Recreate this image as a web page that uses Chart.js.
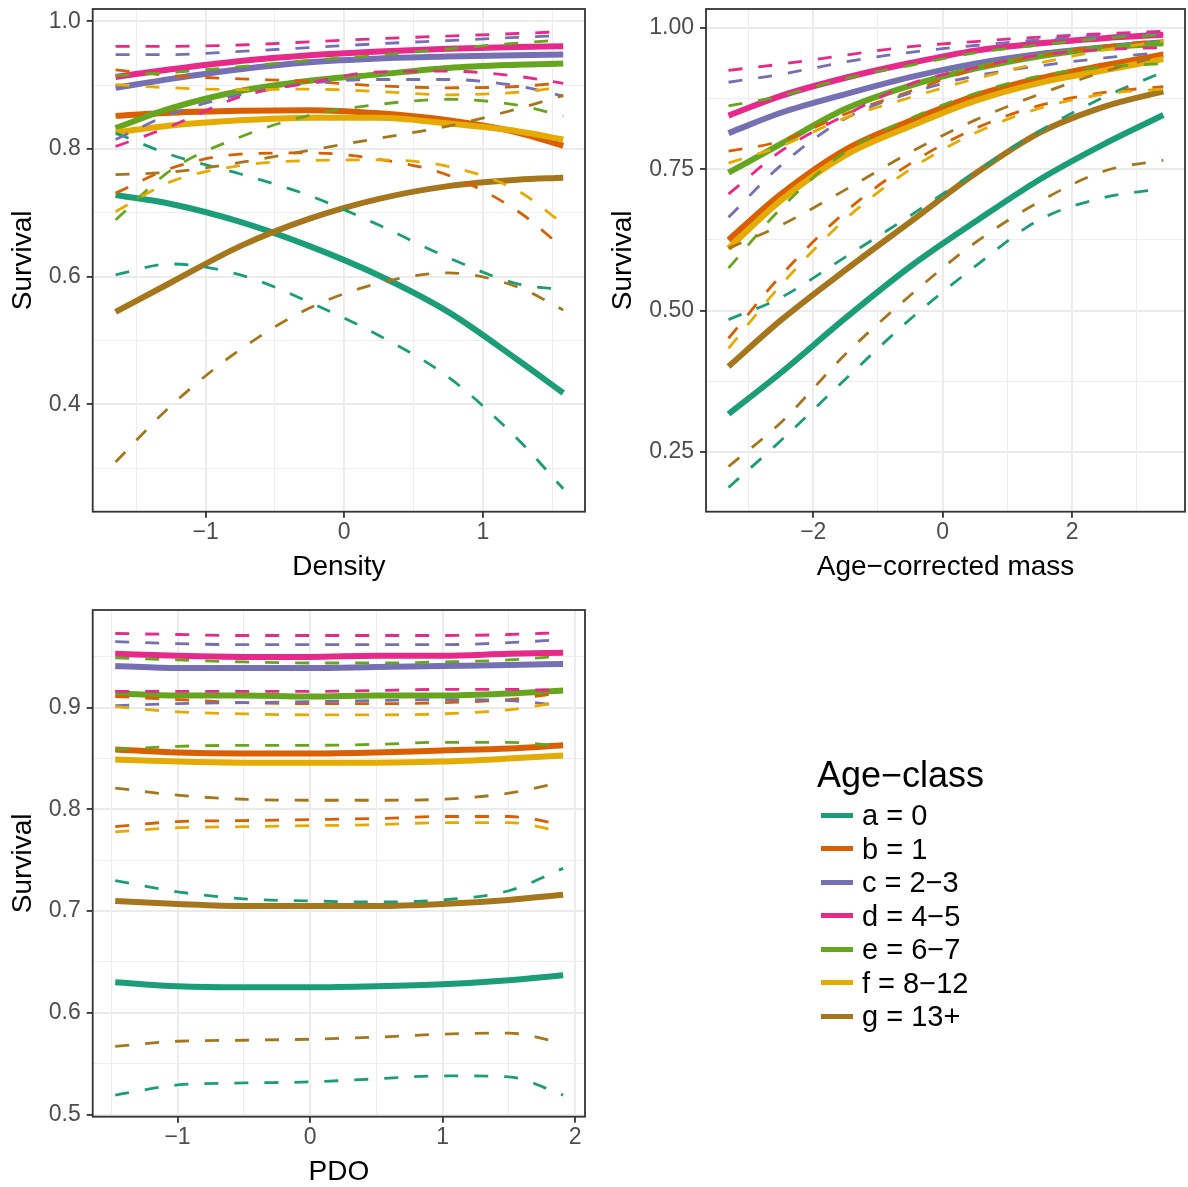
<!DOCTYPE html>
<html>
<head>
<meta charset="utf-8">
<script src="https://cdn.jsdelivr.net/npm/chart.js@4.4.0/dist/chart.umd.min.js"></script>
<style>
  body { margin: 0; background: #ffffff; }
  #page { position: relative; width: 1188px; height: 1187px; overflow: hidden; background: #ffffff;
          font-family: "Liberation Sans", Arial, sans-serif; }
  .panel { position: absolute; }
  .panel canvas { display: block; }
  #legend { position: absolute; left: 0; top: 0; width: 1188px; height: 1187px; pointer-events: none; }
  .ltitle { position: absolute; left: 817px; top: 754px; font-size: 36px; line-height: 42px; color: #000; white-space: nowrap; }
  .lkey { position: absolute; left: 821px; width: 32px; height: 5px; }
  .llabel { position: absolute; left: 862px; font-size: 29px; line-height: 34px; color: #000; white-space: nowrap; }
</style>
</head>
<body>
<div id="page">
  <div class="panel" style="left:0px;top:0px;width:600px;height:590px"><canvas id="cDensity" width="600" height="590"></canvas></div>
  <div class="panel" style="left:600px;top:0px;width:588px;height:590px"><canvas id="cMass" width="588" height="590"></canvas></div>
  <div class="panel" style="left:0px;top:600px;width:600px;height:587px"><canvas id="cPdo" width="600" height="587"></canvas></div>
  <div id="legend"></div>
</div>
<script>
// Age classes and their colours
const classLabels = ['a = 0', 'b = 1', 'c = 2\u22123', 'd = 4\u22125', 'e = 6\u22127', 'f = 8\u221212', 'g = 13+'];
const classColors = ['#1B9E77', '#D95F02', '#7570B3', '#E7298A', '#66A61E', '#E6AB02', '#A6761D'];

// Survival against density (rows follow classLabels)
const densityX = [-1.65, -1.25, -0.75, -0.25, 0.25, 0.75, 1.25, 1.58];
const densityFit = [
  [0.728, 0.714, 0.686, 0.648, 0.602, 0.545, 0.470, 0.418],
  [0.852, 0.857, 0.860, 0.861, 0.856, 0.845, 0.826, 0.805],
  [0.896, 0.910, 0.925, 0.936, 0.942, 0.945, 0.947, 0.948],
  [0.913, 0.925, 0.938, 0.947, 0.953, 0.957, 0.960, 0.961],
  [0.833, 0.864, 0.891, 0.907, 0.917, 0.927, 0.932, 0.934],
  [0.826, 0.837, 0.845, 0.849, 0.849, 0.840, 0.828, 0.815],
  [0.545, 0.591, 0.648, 0.691, 0.722, 0.742, 0.752, 0.755]
];
const densityLower = [
  [0.603, 0.620, 0.603, 0.560, 0.508, 0.443, 0.346, 0.268],
  [0.731, 0.770, 0.792, 0.794, 0.784, 0.759, 0.703, 0.645],
  [0.815, 0.855, 0.885, 0.903, 0.909, 0.909, 0.899, 0.883],
  [0.804, 0.836, 0.882, 0.904, 0.921, 0.922, 0.914, 0.903],
  [0.689, 0.767, 0.819, 0.853, 0.870, 0.878, 0.869, 0.852],
  [0.702, 0.749, 0.774, 0.782, 0.783, 0.773, 0.735, 0.683],
  [0.310, 0.398, 0.486, 0.551, 0.590, 0.606, 0.584, 0.548]
];
const densityUpper = [
  [0.825, 0.791, 0.761, 0.727, 0.681, 0.630, 0.589, 0.580],
  [0.924, 0.915, 0.910, 0.906, 0.899, 0.896, 0.898, 0.904],
  [0.948, 0.948, 0.953, 0.959, 0.965, 0.970, 0.975, 0.978],
  [0.961, 0.961, 0.963, 0.968, 0.973, 0.977, 0.981, 0.984],
  [0.915, 0.920, 0.929, 0.939, 0.947, 0.957, 0.966, 0.971],
  [0.901, 0.896, 0.893, 0.894, 0.890, 0.885, 0.889, 0.897],
  [0.760, 0.764, 0.779, 0.798, 0.817, 0.836, 0.863, 0.884]
];

// Survival against age-corrected mass
const massX = [-3.31, -2.5, -1.5, -0.5, 0.5, 1.5, 2.5, 3.41];
const massFit = [
  [0.317, 0.390, 0.487, 0.578, 0.657, 0.732, 0.795, 0.846],
  [0.625, 0.706, 0.785, 0.836, 0.880, 0.911, 0.934, 0.953],
  [0.814, 0.850, 0.883, 0.913, 0.937, 0.954, 0.966, 0.975],
  [0.845, 0.880, 0.912, 0.938, 0.960, 0.973, 0.982, 0.988],
  [0.744, 0.795, 0.857, 0.898, 0.928, 0.950, 0.965, 0.973],
  [0.610, 0.695, 0.775, 0.826, 0.871, 0.903, 0.925, 0.945],
  [0.401, 0.483, 0.572, 0.657, 0.742, 0.815, 0.861, 0.888]
];
const massLower = [
  [0.187, 0.270, 0.379, 0.485, 0.578, 0.661, 0.700, 0.716],
  [0.451, 0.562, 0.675, 0.760, 0.822, 0.863, 0.886, 0.896],
  [0.665, 0.757, 0.840, 0.885, 0.915, 0.933, 0.947, 0.957],
  [0.706, 0.782, 0.846, 0.901, 0.930, 0.952, 0.962, 0.965],
  [0.575, 0.681, 0.781, 0.840, 0.884, 0.915, 0.931, 0.937],
  [0.433, 0.545, 0.662, 0.750, 0.814, 0.858, 0.883, 0.892],
  [0.224, 0.302, 0.423, 0.527, 0.620, 0.693, 0.747, 0.766]
];
const massUpper = [
  [0.484, 0.523, 0.595, 0.668, 0.745, 0.818, 0.878, 0.922],
  [0.782, 0.800, 0.848, 0.888, 0.927, 0.951, 0.968, 0.978],
  [0.904, 0.918, 0.940, 0.957, 0.969, 0.979, 0.986, 0.991],
  [0.925, 0.936, 0.952, 0.967, 0.976, 0.984, 0.990, 0.994],
  [0.862, 0.880, 0.911, 0.934, 0.956, 0.970, 0.982, 0.988],
  [0.761, 0.791, 0.841, 0.877, 0.910, 0.938, 0.961, 0.977],
  [0.610, 0.651, 0.714, 0.780, 0.837, 0.883, 0.923, 0.952]
];

// Survival against PDO
const pdoX = [-1.47, -1.0, -0.5, 0, 0.5, 1.0, 1.5, 1.91];
const pdoFit = [
  [0.630, 0.626, 0.625, 0.625, 0.626, 0.628, 0.632, 0.637],
  [0.859, 0.856, 0.855, 0.855, 0.856, 0.858, 0.860, 0.863],
  [0.941, 0.939, 0.939, 0.939, 0.940, 0.941, 0.942, 0.943],
  [0.953, 0.951, 0.950, 0.950, 0.951, 0.951, 0.953, 0.954],
  [0.914, 0.912, 0.912, 0.911, 0.912, 0.912, 0.914, 0.917],
  [0.849, 0.847, 0.846, 0.846, 0.846, 0.847, 0.850, 0.853],
  [0.710, 0.707, 0.705, 0.705, 0.705, 0.707, 0.711, 0.716]
];
const pdoLower = [
  [0.519, 0.529, 0.531, 0.532, 0.535, 0.538, 0.537, 0.519],
  [0.783, 0.788, 0.789, 0.790, 0.791, 0.793, 0.793, 0.785],
  [0.902, 0.904, 0.905, 0.906, 0.907, 0.908, 0.907, 0.902],
  [0.916, 0.916, 0.916, 0.916, 0.917, 0.918, 0.918, 0.917],
  [0.859, 0.862, 0.863, 0.863, 0.864, 0.866, 0.866, 0.862],
  [0.778, 0.782, 0.783, 0.784, 0.785, 0.787, 0.787, 0.778],
  [0.567, 0.572, 0.573, 0.574, 0.576, 0.579, 0.580, 0.570]
];
const pdoUpper = [
  [0.730, 0.719, 0.712, 0.710, 0.709, 0.711, 0.720, 0.742],
  [0.911, 0.908, 0.905, 0.904, 0.904, 0.905, 0.908, 0.915],
  [0.965, 0.963, 0.962, 0.962, 0.962, 0.962, 0.964, 0.967],
  [0.973, 0.972, 0.971, 0.971, 0.971, 0.971, 0.972, 0.974],
  [0.949, 0.947, 0.945, 0.944, 0.944, 0.945, 0.947, 0.951],
  [0.901, 0.896, 0.894, 0.893, 0.893, 0.894, 0.898, 0.906],
  [0.821, 0.814, 0.810, 0.809, 0.809, 0.810, 0.816, 0.827]
];

// Grid positions (all) and labelled positions (major) per axis
const densityXTicks = [-1.5, -1, -0.5, 0, 0.5, 1, 1.5];
const densityXMajor = [-1, 0, 1];
const densityYTicks = [0.3, 0.4, 0.5, 0.6, 0.7, 0.8, 0.9, 1.0];
const densityYMajor = [0.4, 0.6, 0.8, 1.0];
const massXTicks = [-3, -2, -1, 0, 1, 2, 3];
const massXMajor = [-2, 0, 2];
const massYTicks = [0.25, 0.375, 0.5, 0.625, 0.75, 0.875, 1.0];
const massYMajor = [0.25, 0.5, 0.75, 1.0];
const pdoXTicks = [-1.5, -1, -0.5, 0, 0.5, 1, 1.5, 2];
const pdoXMajor = [-1, 0, 1, 2];
const pdoYTicks = [0.5, 0.55, 0.6, 0.65, 0.7, 0.75, 0.8, 0.85, 0.9, 0.95];
const pdoYMajor = [0.5, 0.6, 0.7, 0.8, 0.9];

Chart.defaults.font.family = "'Liberation Sans', Arial, Helvetica, sans-serif";

const GRID = '#EBEBEB';
const INK = '#333333';
const MINUS = '\u2212';

function isIn(list, v) { return list.some(m => Math.abs(m - v) < 1e-9); }
function fmt(v, digits) {
  const s = Math.abs(v).toFixed(digits);
  return v < 0 ? MINUS + s : s;
}

// Panel border drawn over the data, as a closed frame
const framePlugin = {
  id: 'frame',
  afterDatasetsDraw(chart) {
    const { ctx, chartArea: a } = chart;
    ctx.save();
    ctx.strokeStyle = INK;
    ctx.lineWidth = 1.8;
    ctx.strokeRect(a.left, a.top, a.right - a.left, a.bottom - a.top);
    ctx.restore();
  }
};

function buildDatasets(xs, fit, lower, upper) {
  const sets = [];
  const pts = arr => arr.map((y, k) => ({ x: xs[k], y }));
  classColors.forEach((col, i) => {
    sets.push({ data: pts(fit[i]), borderColor: col, borderWidth: 6, order: 20 - i });
    sets.push({ data: pts(lower[i]), borderColor: col, borderWidth: 2.8, borderDash: [14, 16], order: 10 - i });
    sets.push({ data: pts(upper[i]), borderColor: col, borderWidth: 2.8, borderDash: [14, 16], order: 10 - i });
  });
  return sets;
}

function axis(o) {
  const horizontal = o.dir === 'x';
  return {
    type: 'linear',
    position: horizontal ? 'bottom' : 'left',
    min: o.min,
    max: o.max,
    afterBuildTicks: ax => { ax.ticks = o.ticks.map(v => ({ value: v })); },
    afterFit: ax => {
      if (horizontal) { ax.height = o.size; ax.paddingLeft = 0; ax.paddingRight = 0; }
      else { ax.width = o.size; ax.paddingTop = 0; ax.paddingBottom = 0; }
    },
    border: { display: false },
    grid: {
      color: GRID,
      lineWidth: c => (c.tick && isIn(o.major, c.tick.value)) ? 1.9 : 0.9,
      drawTicks: true,
      tickLength: 6,
      tickWidth: 1.8,
      tickColor: c => (c.tick && isIn(o.major, c.tick.value)) ? INK : 'rgba(0,0,0,0)'
    },
    ticks: {
      autoSkip: false,
      maxRotation: 0,
      color: '#4D4D4D',
      font: { size: 23 },
      padding: horizontal ? 1.5 : 6,
      callback: v => isIn(o.major, v) ? fmt(v, o.digits) : ''
    },
    title: {
      display: true,
      text: o.title,
      color: '#000000',
      font: { size: 28, lineHeight: 1 },
      padding: horizontal ? { top: 0, bottom: o.titlePad } : { top: o.titlePad, bottom: 0 }
    }
  };
}

function makePanel(id, p) {
  new Chart(document.getElementById(id), {
    type: 'line',
    data: { datasets: buildDatasets(p.xs, p.fit, p.lower, p.upper) },
    options: {
      responsive: false,
      animation: false,
      devicePixelRatio: 1,
      layout: { padding: p.padding },
      elements: {
        point: { radius: 0, hoverRadius: 0 },
        line: { cubicInterpolationMode: 'monotone', fill: false, borderCapStyle: 'butt' }
      },
      plugins: { legend: { display: false }, tooltip: { enabled: false } },
      scales: { x: axis(p.x), y: axis(p.y) }
    },
    plugins: [framePlugin]
  });
}

makePanel('cDensity', {
  xs: densityX, fit: densityFit, lower: densityLower, upper: densityUpper,
  padding: { left: 0, top: 9, right: 15, bottom: 0 },
  x: { dir: 'x', min: -1.815, max: 1.737, ticks: densityXTicks, major: densityXMajor, digits: 0, size: 78.3, title: 'Density', titlePad: 9 },
  y: { dir: 'y', min: 0.232, max: 1.0194, ticks: densityYTicks, major: densityYMajor, digits: 1, size: 92.7, title: 'Survival', titlePad: 9 }
});

makePanel('cMass', {
  xs: massX, fit: massFit, lower: massLower, upper: massUpper,
  padding: { left: 0, top: 9, right: 3, bottom: 0 },
  x: { dir: 'x', min: -3.658, max: 3.745, ticks: massXTicks, major: massXMajor, digits: 0, size: 78.3, title: 'Age\u2212corrected mass', titlePad: 9 },
  y: { dir: 'y', min: 0.1441, max: 1.0336, ticks: massYTicks, major: massYMajor, digits: 2, size: 106, title: 'Survival', titlePad: 9 }
});

makePanel('cPdo', {
  xs: pdoX, fit: pdoFit, lower: pdoLower, upper: pdoUpper,
  padding: { left: 0, top: 10, right: 15, bottom: 0 },
  x: { dir: 'x', min: -1.640, max: 2.075, ticks: pdoXTicks, major: pdoXMajor, digits: 0, size: 70.3, title: 'PDO', titlePad: 1 },
  y: { dir: 'y', min: 0.4978, max: 0.9961, ticks: pdoYTicks, major: pdoYMajor, digits: 1, size: 92.7, title: 'Survival', titlePad: 9 }
});

// Legend for the age classes
(function buildLegend() {
  const box = document.getElementById('legend');
  const title = document.createElement('div');
  title.className = 'ltitle';
  title.textContent = 'Age\u2212class';
  box.appendChild(title);
  classLabels.forEach((label, i) => {
    const cy = 815 + i * 33.5;
    const key = document.createElement('div');
    key.className = 'lkey';
    key.style.top = (cy - 2.5) + 'px';
    key.style.background = classColors[i];
    box.appendChild(key);
    const txt = document.createElement('div');
    txt.className = 'llabel';
    txt.style.top = (cy - 17) + 'px';
    txt.textContent = label;
    box.appendChild(txt);
  });
})();
</script>
</body>
</html>
